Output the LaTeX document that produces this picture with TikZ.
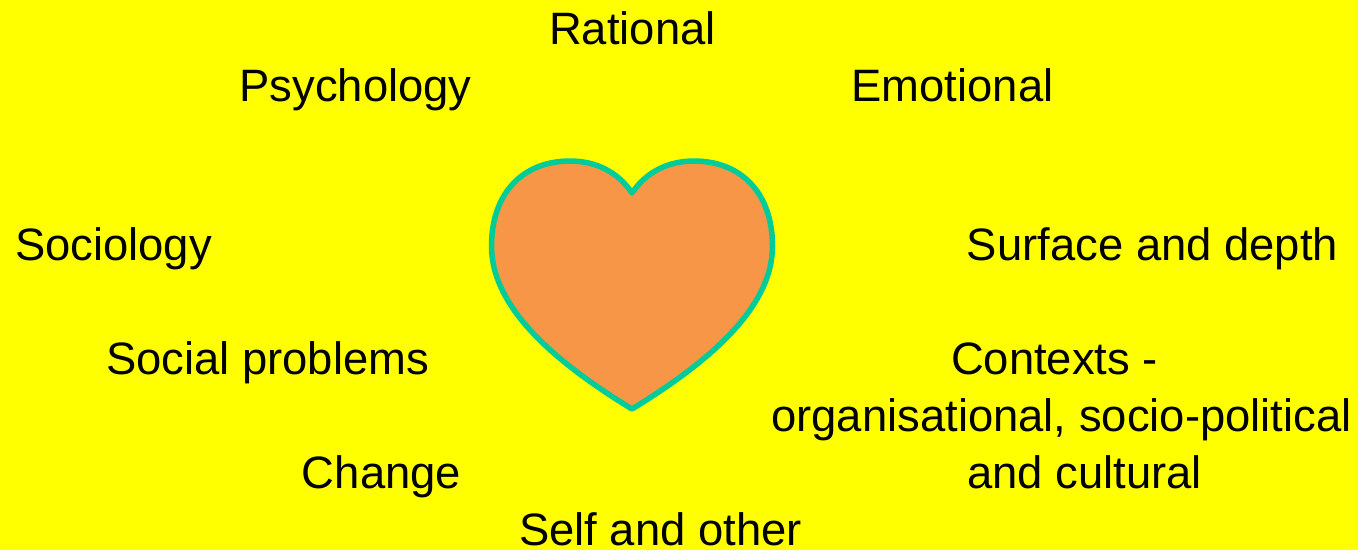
\documentclass[tikz,border=0pt]{standalone}
\usepackage{fontspec}
\setmainfont{Liberation Sans}
\definecolor{bgyellow}{RGB}{255,255,0}
\definecolor{heartfill}{RGB}{247,150,70}
\definecolor{heartline}{RGB}{0,204,153}
\tikzset{label/.style={font=\fontsize{45.4pt}{57pt}\selectfont, inner sep=0pt, anchor=base, text=black}}
\begin{document}
\begin{tikzpicture}[x=1pt,y=-1pt, line join=round]
 \fill[bgyellow] (0,0) rectangle (1358,550);
 \useasboundingbox (0,0) rectangle (1358,550);
 % heart
 \draw[line width=5.5pt, draw=heartline, fill=heartfill] (632,193) .. controls (618,172) and (596,161) .. (570,161) .. controls (522,161) and (491.5,194) .. (491.5,246) .. controls (491.5,310) and (560,365) .. (632,409) .. controls (704,365) and (772.5,310) .. (772.5,246) .. controls (772.5,194) and (742,161) .. (694,161) .. controls (668,161) and (646,172) .. (632,193) -- cycle;
 % labels
 \node[label] (rational) at (632.5,44.5) {Rational};
 \node[label] (psychology) at (355.5,101.5) {Psychology};
 \node[label] (emotional) at (952.5,101.5) {Emotional};
 \node[label] (sociology) at (113.5,260.5) {Sociology};
 \node[label] (surface) at (1152.5,260.5) {Surface and depth};
 \node[label] (problems) at (267.5,374.5) {Social problems};
 \node[label, align=center] (contexts) at (1061.5,488.5) {Contexts -\hspace*{14pt}\\organisational, socio-political\\\hspace*{46pt}and cultural};
 \node[label] (change) at (381.5,488.5) {Change};
 \node[label] (self) at (660.5,545.5) {Self and other};
\end{tikzpicture}
\end{document}
